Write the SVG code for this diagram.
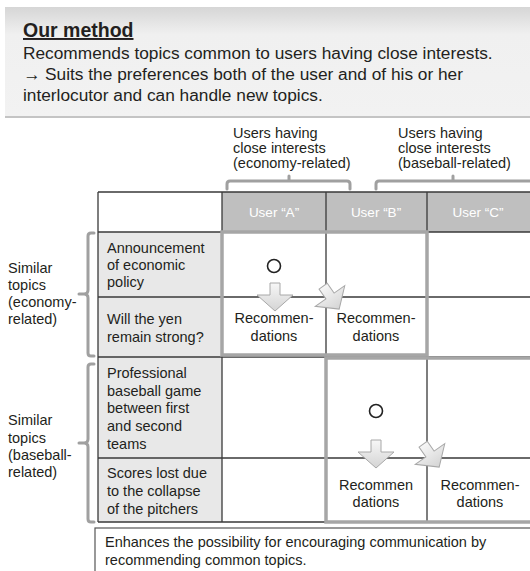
<svg xmlns="http://www.w3.org/2000/svg" width="530" height="571" viewBox="0 0 530 571">
  <style>
    text { font-family: "Liberation Sans", Arial, sans-serif; fill: #231f20; }
    .body { font-size: 17.3px; }
    .title { font-size: 19.5px; font-weight: bold; text-decoration: underline; }
    .t { font-size: 14.5px; }
    .hdr { font-size: 13.5px; fill: #ffffff; }
    .mid { text-anchor: middle; }
    .grid { stroke: #3a3a3a; stroke-width: 1.3; fill: none; }
    .hl { stroke: #a6a6a6; stroke-width: 3.5; fill: none; }
    .brk { stroke: #a0a0a0; stroke-width: 3; fill: none; stroke-linecap: round; }
    .arrow { fill: url(#arrowFill); stroke: #a8a8a8; stroke-width: 1; }
    .mark { fill: none; stroke: #222; stroke-width: 1.6; }
  </style>
  <defs>
    <linearGradient id="boxFill" x1="0" y1="0" x2="0" y2="1">
      <stop offset="0" stop-color="#d6d6d6"/>
      <stop offset="0.25" stop-color="#f0f0f0"/>
      <stop offset="1" stop-color="#f2f2f2"/>
    </linearGradient>
    <linearGradient id="arrowFill" x1="0" y1="0" x2="0" y2="1">
      <stop offset="0" stop-color="#f7f7f7"/>
      <stop offset="1" stop-color="#d4d4d4"/>
    </linearGradient>
    <!-- block arrow pointing down, origin at the centre of the head base -->
    <path id="blockArrow" d="M-5,-12 H5 V0 H18 L0,16 L-18,0 H-5 Z"/>
  </defs>

  <!-- summary panel -->
  <g id="method">
    <rect x="5" y="7" width="530" height="110" fill="url(#boxFill)"/>
    <line x1="5" y1="117" x2="530" y2="117" stroke="#c4c4c4" stroke-width="2"/>
    <text class="title" x="23" y="37">Our method</text>
    <text class="body" x="23" y="59">Recommends topics common to users having close interests.</text>
    <text class="body" x="23" y="80">→ Suits the preferences both of the user and of his or her</text>
    <text class="body" x="23" y="101">interlocutor and can handle new topics.</text>
  </g>

  <!-- user groups -->
  <g id="group-economy-users">
    <text class="t" x="233" y="138">Users having</text>
    <text class="t" x="233" y="153">close interests</text>
    <text class="t" x="233" y="168">(economy-related)</text>
    <path class="brk" d="M227,189 V184 Q227,181 230,181 H347 Q350,181 350,184 V189 M289,181 V176"/>
  </g>
  <g id="group-baseball-users">
    <text class="t" x="398" y="138">Users having</text>
    <text class="t" x="398" y="153">close interests</text>
    <text class="t" x="398" y="168">(baseball-related)</text>
    <path class="brk" d="M376,189 V184 Q376,181 379,181 H534 M453,181 V176"/>
  </g>

  <!-- topic groups -->
  <g id="group-economy-topics">
    <text class="t" x="8" y="273">Similar</text>
    <text class="t" x="8" y="290">topics</text>
    <text class="t" x="8" y="307">(economy-</text>
    <text class="t" x="8" y="324">related)</text>
    <path class="brk" d="M94,233 H91 Q88,233 88,236 V290 Q88,294 84,294 H79 M84,294 Q88,294 88,298 V353 Q88,356 91,356 H94"/>
  </g>
  <g id="group-baseball-topics">
    <text class="t" x="8" y="425">Similar</text>
    <text class="t" x="8" y="443">topics</text>
    <text class="t" x="8" y="460">(baseball-</text>
    <text class="t" x="8" y="477">related)</text>
    <path class="brk" d="M94,364 H91 Q88,364 88,367 V439 Q88,443 84,443 H79 M84,443 Q88,443 88,447 V519 Q88,522 91,522 H94"/>
  </g>

  <!-- table -->
  <g id="table">
    <rect x="222" y="192" width="312" height="40" fill="#bfbfbf"/>
    <rect x="98" y="232" width="124" height="290" fill="#e8e8e8"/>
    <rect x="98" y="192" width="124" height="40" fill="#ffffff"/>
    <rect x="222" y="232" width="312" height="290" fill="#ffffff"/>
    <path class="grid" d="M98,192 H534 M98,232 H534 M98,297 H534 M98,357 H534 M98,458 H534 M98,522 H534 M98,192 V522 M222,192 V522 M326,192 V522 M427,192 V522"/>
    <text class="hdr mid" x="274" y="217">User “A”</text>
    <text class="hdr mid" x="376" y="217">User “B”</text>
    <text class="hdr mid" x="478" y="217">User “C”</text>
  </g>

  <g id="topic-policy">
    <text class="t" x="107" y="253">Announcement</text>
    <text class="t" x="107" y="270">of economic</text>
    <text class="t" x="107" y="287">policy</text>
  </g>
  <g id="topic-yen">
    <text class="t" x="107" y="324">Will the yen</text>
    <text class="t" x="107" y="342">remain strong?</text>
  </g>
  <g id="topic-baseball-game">
    <text class="t" x="107" y="378">Professional</text>
    <text class="t" x="107" y="396">baseball game</text>
    <text class="t" x="107" y="413">between first</text>
    <text class="t" x="107" y="431">and second</text>
    <text class="t" x="107" y="449">teams</text>
  </g>
  <g id="topic-pitchers">
    <text class="t" x="107" y="478">Scores lost due</text>
    <text class="t" x="107" y="496">to the collapse</text>
    <text class="t" x="107" y="514">of the pitchers</text>
  </g>

  <!-- interest marks -->
  <g id="mark-a-policy"><circle class="mark" cx="274" cy="266" r="6.5"/></g>
  <g id="mark-b-baseball"><circle class="mark" cx="376" cy="411" r="6.5"/></g>

  <!-- recommendations -->
  <g id="rec-a-yen">
    <text class="t mid" x="274" y="323">Recommen-</text>
    <text class="t mid" x="274" y="341">dations</text>
  </g>
  <g id="rec-b-yen">
    <text class="t mid" x="376" y="323">Recommen-</text>
    <text class="t mid" x="376" y="341">dations</text>
  </g>
  <g id="rec-b-pitchers">
    <text class="t mid" x="376" y="490">Recommen</text>
    <text class="t mid" x="376" y="507">dations</text>
  </g>
  <g id="rec-c-pitchers">
    <text class="t mid" x="480" y="490">Recommen-</text>
    <text class="t mid" x="480" y="507">dations</text>
  </g>

  <!-- highlighted user/topic blocks and arrows -->
  <g id="connectors">
    <rect class="hl" x="222" y="232" width="205" height="123"/>
    <rect class="hl" x="326" y="358" width="212" height="164"/>
    <use href="#blockArrow" class="arrow" transform="translate(275,295)"/>
    <use href="#blockArrow" class="arrow" transform="translate(330,296) rotate(-35)"/>
    <use href="#blockArrow" class="arrow" transform="translate(376,452)"/>
    <use href="#blockArrow" class="arrow" transform="translate(430,454) rotate(-35)"/>
  </g>

  <!-- conclusion -->
  <g id="conclusion">
    <rect x="95" y="528" width="440" height="50" fill="#ffffff" stroke="#555" stroke-width="1.2"/>
    <text class="t" x="105" y="547">Enhances the possibility for encouraging communication by</text>
    <text class="t" x="105" y="565">recommending common topics.</text>
  </g>
</svg>
